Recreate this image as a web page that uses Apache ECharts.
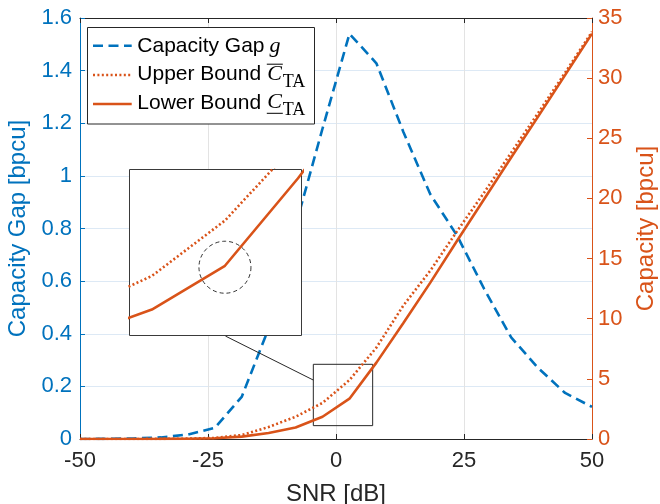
<!DOCTYPE html>
<html><head><meta charset="utf-8">
<script src="https://cdn.jsdelivr.net/npm/echarts@6/dist/echarts.min.js"></script>
<style>html,body{margin:0;padding:0;background:#fff}#c{width:660px;height:504px}</style>
</head><body><div id="c"></div>
<script>
// ---- data ----
const snr   = [-50,-44.74,-39.47,-34.21,-28.95,-23.68,-18.42,-13.16,-7.89,-2.63,2.63,7.89,13.16,18.42,23.68,28.95,34.21,39.47,44.74,50];
const gap   = [0.0001,0.0005,0.002,0.006,0.017,0.042,0.16,0.42,0.81,1.18,1.54,1.428,1.167,0.93,0.772,0.57,0.386,0.27,0.175,0.122];
const upper = [0.0004,0.0013,0.004,0.01,0.03,0.09,0.33,1.0,1.85,3.0,4.9,7.6,11.1,14.0,17.3,20.5,23.8,27.1,30.45,33.85];
const lower = [0.0003,0.001,0.003,0.008,0.02,0.06,0.2,0.5,0.95,1.85,3.35,6.35,9.65,13.0,16.5,19.95,23.4,26.8,30.25,33.7];
const zoomBoxX = [-4.43, 7.16];   // zoom rectangle on main axes (SNR)
const zoomBoxY = [1.11, 6.21];    // zoom rectangle on main axes (capacity)
const insetX = [-4.24, 8.14];
const insetY = [0.96, 6.65];
const connector = [[-21.6, 8.56], [-4.43, 4.9]];
const legendNames = ['Capacity Gap', 'Upper Bound', 'Lower Bound'];

const BLUE = '#0072BD', ORANGE = '#D95319', AX = '#262626';
const SANS = '"Liberation Sans", Arial, Helvetica, sans-serif';
const SERIF = '"Liberation Serif", "Times New Roman", serif';
const pair = (xs, ys) => xs.map((x, i) => [x, ys[i]]);
const DASH = [10, 5.5], DOT = [2, 2.4], LW = 2.6;

const chart = echarts.init(document.getElementById('c'), null, {renderer: 'canvas'});

const LX = 137.3, base = [53.3, 81.7, 110], lineY = [45.7, 75, 104];
const fSans = 21, fC = 22, fSub = 18;
const mathX = [269.5, 267.3, 267.3];
const graphics = [];
graphics.push({type: 'rect', z: 100, shape: {x: 87.5, y: 27.5, width: 227, height: 96.5},
  style: {fill: '#fff', stroke: AX, lineWidth: 1}});
const lineStyles = [{stroke: BLUE, lineDash: DASH}, {stroke: ORANGE, lineDash: DOT}, {stroke: ORANGE}];
for (let i = 0; i < 3; i++) {
  graphics.push({type: 'line', z: 101, shape: {x1: 93, y1: lineY[i], x2: 131.7, y2: lineY[i]},
    style: Object.assign({lineWidth: LW, fill: null}, lineStyles[i])});
  graphics.push({type: 'text', z: 101, x: LX, y: base[i] - 0.3465 * fSans,
    style: {text: legendNames[i], font: fSans + 'px ' + SANS, fill: '#000', verticalAlign: 'middle', align: 'left'}});
}
graphics.push({type: 'text', z: 101, x: mathX[0], y: base[0] - 0.3375 * fC,
  style: {text: 'g', font: 'italic ' + fC + 'px ' + SERIF, fill: '#000', verticalAlign: 'middle', align: 'left'}});
for (let i = 1; i < 3; i++) {
  const cx = mathX[i], cw = 15;
  graphics.push({type: 'text', z: 101, x: cx, y: base[i] - 0.3375 * fC,
    style: {text: 'C', font: 'italic ' + fC + 'px ' + SERIF, fill: '#000', verticalAlign: 'middle', align: 'left'}});
  graphics.push({type: 'text', z: 101, x: cx + cw + 0.5, y: base[i] + 6.6 - 0.3375 * fSub,
    style: {text: 'TA', font: fSub + 'px ' + SERIF, fill: '#000', verticalAlign: 'middle', align: 'left'}});
  const by = i === 1 ? base[i] - 17.5 : base[i] + 3.3;
  graphics.push({type: 'line', z: 101, shape: {x1: cx - 0.5, y1: by, x2: cx + cw + 0.5, y2: by},
    style: {stroke: '#000', lineWidth: 1}});
}

const option = {
  animation: false,
  backgroundColor: '#fff',
  grid: [
    {left: 80, top: 18, width: 512, height: 421, show: false, containLabel: false, outerBoundsMode: 'none'},
    {left: 129.5, top: 169.5, width: 172, height: 166, show: true, backgroundColor: '#fff',
     borderColor: '#3a3a3a', borderWidth: 1, z: 10, containLabel: false, outerBoundsMode: 'none'}
  ],
  xAxis: [
    {type: 'value', gridIndex: 0, min: -50, max: 50, interval: 25, position: 'bottom',
     axisLine: {show: true, onZero: false, lineStyle: {color: AX, width: 1}},
     axisTick: {show: true, inside: true, length: 5, lineStyle: {color: AX}},
     axisLabel: {color: AX, fontSize: 22, fontFamily: SANS, margin: 11},
     splitLine: {show: true, lineStyle: {color: '#e3e3e3', width: 1}},
     name: 'SNR [dB]', nameLocation: 'middle', nameGap: 43,
     nameTextStyle: {color: AX, fontSize: 24, fontFamily: SANS}},
    {type: 'value', gridIndex: 0, min: -50, max: 50, interval: 25, position: 'top',
     axisLine: {show: true, onZero: false, lineStyle: {color: AX, width: 1}},
     axisTick: {show: true, inside: true, length: 5, lineStyle: {color: AX}},
     axisLabel: {show: false}, splitLine: {show: false}},
    {type: 'value', gridIndex: 1, min: insetX[0], max: insetX[1],
     axisLine: {show: false}, axisTick: {show: false}, axisLabel: {show: false}, splitLine: {show: false}}
  ],
  yAxis: [
    {type: 'value', gridIndex: 0, min: 0, max: 1.6, interval: 0.2, position: 'left',
     axisLine: {show: true, onZero: false, lineStyle: {color: BLUE, width: 1}},
     axisTick: {show: true, inside: true, length: 5, lineStyle: {color: BLUE}},
     axisLabel: {color: BLUE, fontSize: 22, fontFamily: SANS, margin: 8},
     splitLine: {show: true, lineStyle: {color: '#dde9f5', width: 1}},
     name: 'Capacity Gap [bpcu]', nameLocation: 'middle', nameGap: 40, nameRotate: 90,
     nameTextStyle: {color: BLUE, fontSize: 24, fontFamily: SANS}},
    {type: 'value', gridIndex: 0, min: 0, max: 35, interval: 5, position: 'right',
     axisLine: {show: true, onZero: false, lineStyle: {color: ORANGE, width: 1}},
     axisTick: {show: true, inside: true, length: 5, lineStyle: {color: ORANGE}},
     axisLabel: {color: ORANGE, fontSize: 22, fontFamily: SANS, margin: 6},
     splitLine: {show: false},
     name: 'Capacity [bpcu]', nameLocation: 'middle', nameGap: 42, nameRotate: 90,
     nameTextStyle: {color: ORANGE, fontSize: 24, fontFamily: SANS}},
    {type: 'value', gridIndex: 1, min: insetY[0], max: insetY[1],
     axisLine: {show: false}, axisTick: {show: false}, axisLabel: {show: false}, splitLine: {show: false}}
  ],
  series: [
    {name: 'Capacity Gap', type: 'line', xAxisIndex: 0, yAxisIndex: 0, data: pair(snr, gap),
     symbol: 'none', z: 3, lineStyle: {color: BLUE, width: LW, type: DASH}},
    {name: 'Upper Bound', type: 'line', xAxisIndex: 0, yAxisIndex: 1, data: pair(snr, upper),
     symbol: 'none', z: 3, lineStyle: {color: ORANGE, width: LW, type: DOT}},
    {name: 'Lower Bound', type: 'line', xAxisIndex: 0, yAxisIndex: 1, data: pair(snr, lower),
     symbol: 'none', z: 3, lineStyle: {color: ORANGE, width: LW, type: 'solid'},
     markArea: {silent: true, itemStyle: {color: 'rgba(0,0,0,0)', borderColor: AX, borderWidth: 1},
       data: [[{coord: [zoomBoxX[0], zoomBoxY[1]]}, {coord: [zoomBoxX[1], zoomBoxY[0]]}]]},
     markLine: {silent: true, symbol: 'none', label: {show: false},
       lineStyle: {color: AX, width: 1, type: 'solid'},
       data: [[{coord: connector[0]}, {coord: connector[1]}]]}},
    // inset grid lines
    {type: 'line', xAxisIndex: 2, yAxisIndex: 2, data: pair(snr, lower), symbol: 'none', z: 11,
     lineStyle: {opacity: 0}, silent: true,
     markLine: {silent: true, symbol: 'none', label: {show: false},
       lineStyle: {color: '#e3e3e3', width: 1, type: 'solid'},
       data: [{xAxis: 0}, {yAxis: 5}]}},
    {type: 'line', xAxisIndex: 2, yAxisIndex: 2, data: pair(snr, upper), symbol: 'none', z: 12,
     lineStyle: {color: ORANGE, width: LW, type: DOT}},
    {type: 'line', xAxisIndex: 2, yAxisIndex: 2, data: pair(snr, lower), symbol: 'none', z: 12,
     lineStyle: {color: ORANGE, width: LW, type: 'solid'}},
    {type: 'scatter', xAxisIndex: 2, yAxisIndex: 2, data: [[snr[10], lower[10] - 0.05]], symbol: 'circle',
     symbolSize: 52, z: 13, silent: true,
     itemStyle: {color: 'rgba(0,0,0,0)', borderColor: '#000', borderWidth: 1, borderType: [4, 3]}}
  ],
  graphic: graphics
};
chart.setOption(option);
</script></body></html>
